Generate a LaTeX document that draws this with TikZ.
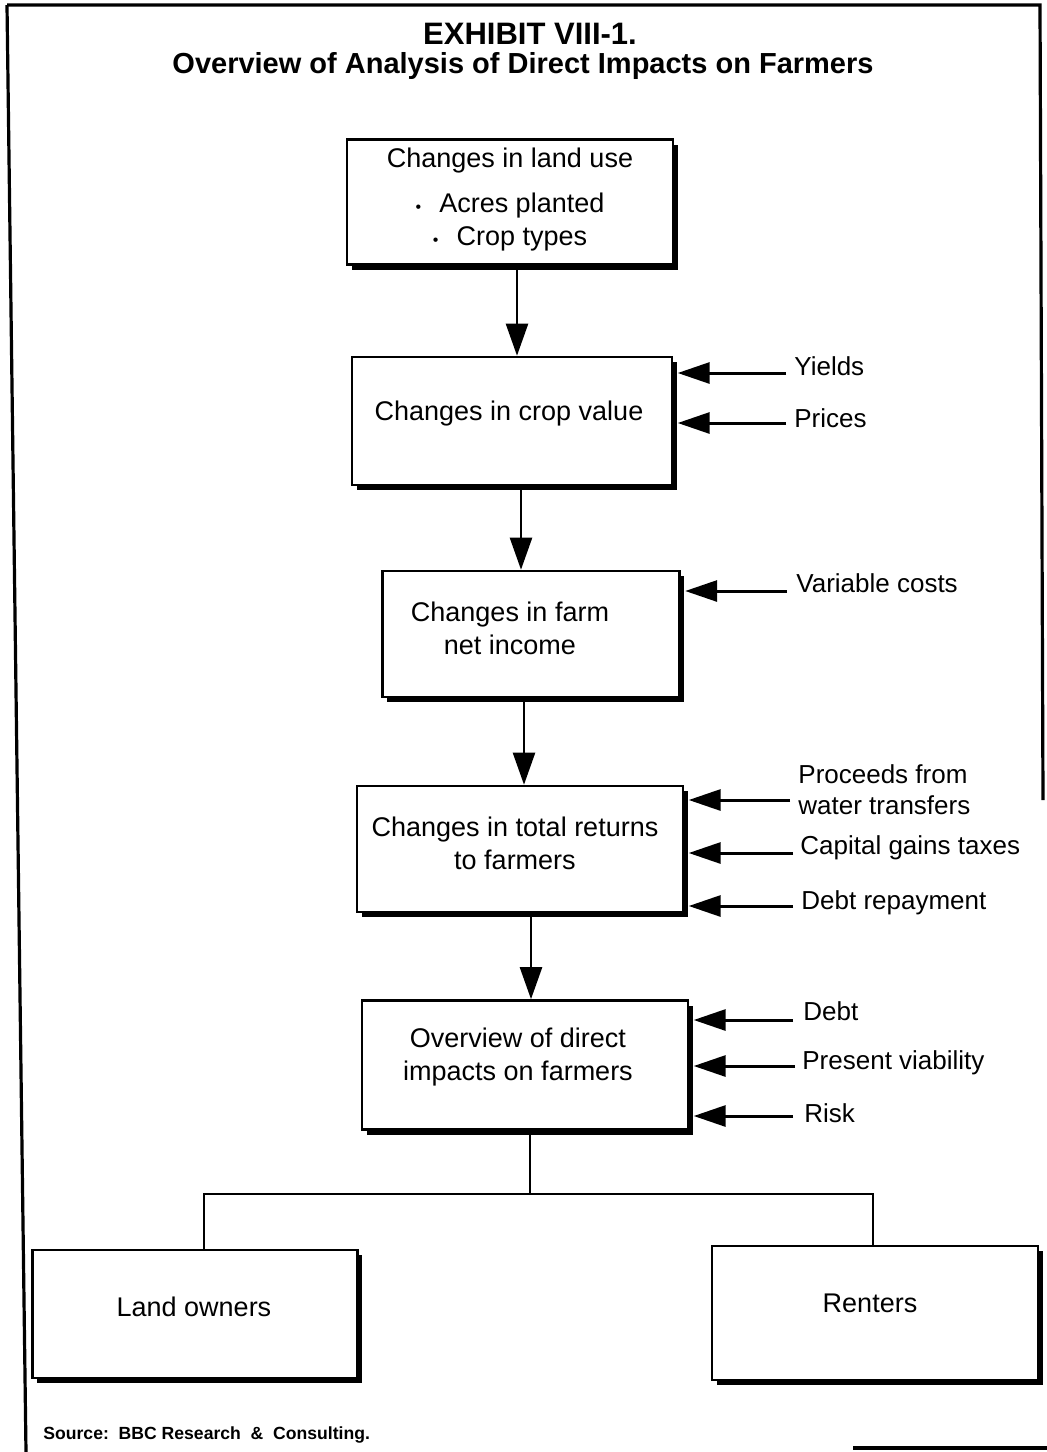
\documentclass[tikz,border=0pt]{standalone}
\usepackage{fontspec}
\setmainfont{Liberation Sans}
\usetikzlibrary{arrows.meta,shadows}

\newcommand{\dotitem}{{\fontsize{8}{8}\selectfont •}\hspace{9pt}}

\begin{document}
\begin{tikzpicture}[x=0.5pt,y=-0.5pt,
  box/.style={draw,line width=1.3pt,fill=white,inner sep=0pt,
    drop shadow={shadow xshift=2.4pt,shadow yshift=-2.6pt,opacity=1,fill=black}},
  boxtext/.style={align=center,font=\fontsize{13.5}{16.5}\selectfont,inner sep=0pt},
  sidelabel/.style={anchor=west,align=left,font=\fontsize{13}{15.5}\selectfont,inner sep=0pt},
  flow/.style={line width=1.2pt,-{Triangle[length=16pt,width=11pt]}},
  feed/.style={line width=1.5pt,-{Triangle[length=16pt,width=10.5pt]},shorten >=2.2pt},
  link/.style={line width=1.1pt},
  frame/.style={line width=1.6pt}]

\useasboundingbox (0,0) rectangle (1047,1452);

% page frame
\draw[frame] (7,5) -- (1040,5) -- (1043,800);
\draw[frame] (7,5) -- (26,1452);
\draw[frame] (853,1448) -- (1047,1448);

% title, set on fixed baselines
\node[anchor=base,font=\fontsize{15.5}{18}\selectfont\bfseries,inner sep=0pt] (title1) at (530,44) {EXHIBIT VIII-1.};
\node[anchor=base,font=\fontsize{14.5}{17}\selectfont\bfseries,inner sep=0pt] (title2) at (523,73)
  {Overview of Analysis of Direct Impacts on Farmers};

% main chain of boxes
\node[box,minimum width=163pt,minimum height=62.5pt] (b1) at (510,202) {};
\node[boxtext] (t1) at (510,200) {Changes in land use\\[6pt]
  \dotitem Acres planted\\ \dotitem Crop types};

\node[box,minimum width=160pt,minimum height=64pt] (b2) at (512,421) {};
\node[boxtext] (t2) at (509,414) {Changes in crop value};

\node[box,minimum width=148.5pt,minimum height=63pt] (b3) at (531,634) {};
\node[boxtext] (t3) at (510,628) {Changes in farm\\net income};

\node[box,minimum width=163pt,minimum height=63pt] (b4) at (520,849) {};
\node[boxtext] (t4) at (515,843) {Changes in total returns\\to farmers};

\node[box,minimum width=163pt,minimum height=64.5pt] (b5) at (525,1065) {};
\node[boxtext] (t5) at (518,1057) {Overview of direct\\impacts on farmers};

\node[box,minimum width=162.5pt,minimum height=64pt] (b6) at (195,1314) {};
\node[boxtext] (t6) at (194,1307) {Land owners};

\node[box,minimum width=163pt,minimum height=67pt] (b7) at (875,1313) {};
\node[boxtext] (t7) at (870,1303) {Renters};

% vertical flow arrows
\coordinate (x12) at (517,0);
\coordinate (x23) at (521,0);
\coordinate (x34) at (524,0);
\coordinate (x45) at (531,0);
\draw[flow] (b1.south -| x12) -- (b2.north -| x12);
\draw[flow] (b2.south -| x23) -- (b3.north -| x23);
\draw[flow] (b3.south -| x34) -- (b4.north -| x34);
\draw[flow] (b4.south -| x45) -- (b5.north -| x45);

% split into owners and renters
\coordinate (xs) at (530,0);
\coordinate (split) at (530,1194);
\coordinate (xo) at (204,0);
\coordinate (xr) at (873,0);
\draw[link] (b5.south -| xs) -- (split);
\draw[link] (b6.north -| xo) -- (split -| xo) -- (split -| xr) -- (b7.north -| xr);

% side factors
\node[sidelabel] (l1) at (794,366) {Yields};
\node[sidelabel] (l2) at (794,418) {Prices};
\node[sidelabel] (l3) at (796,583) {Variable costs};
\node[sidelabel] (l4) at (798,790) {Proceeds from\\water transfers};
\node[sidelabel] (l5) at (800,848) {Capital gains taxes};
\node[sidelabel] (l6) at (801,903) {Debt repayment};
\node[sidelabel] (l7) at (803,1011) {Debt};
\node[sidelabel] (l8) at (802,1063) {Present viability};
\node[sidelabel] (l9) at (804,1113) {Risk};

\coordinate (s1) at (786,373);
\coordinate (s2) at (786,423);
\coordinate (s3) at (787,591);
\coordinate (s4) at (790,800);
\coordinate (s5) at (793,853);
\coordinate (s6) at (793,906);
\coordinate (s7) at (793,1020);
\coordinate (s8) at (795,1066);
\coordinate (s9) at (793,1116);

\draw[feed] (s1) -- (b2.east |- s1);
\draw[feed] (s2) -- (b2.east |- s2);
\draw[feed] (s3) -- (b3.east |- s3);
\draw[feed] (s4) -- (b4.east |- s4);
\draw[feed] (s5) -- (b4.east |- s5);
\draw[feed] (s6) -- (b4.east |- s6);
\draw[feed] (s7) -- (b5.east |- s7);
\draw[feed] (s8) -- (b5.east |- s8);
\draw[feed] (s9) -- (b5.east |- s9);

% source line
\node[anchor=west,inner sep=0pt,font=\fontsize{8.8}{10}\selectfont\bfseries] (src) at (43,1435)
  {Source:\ \ BBC Research \ \& \ Consulting.};

\end{tikzpicture}
\end{document}
